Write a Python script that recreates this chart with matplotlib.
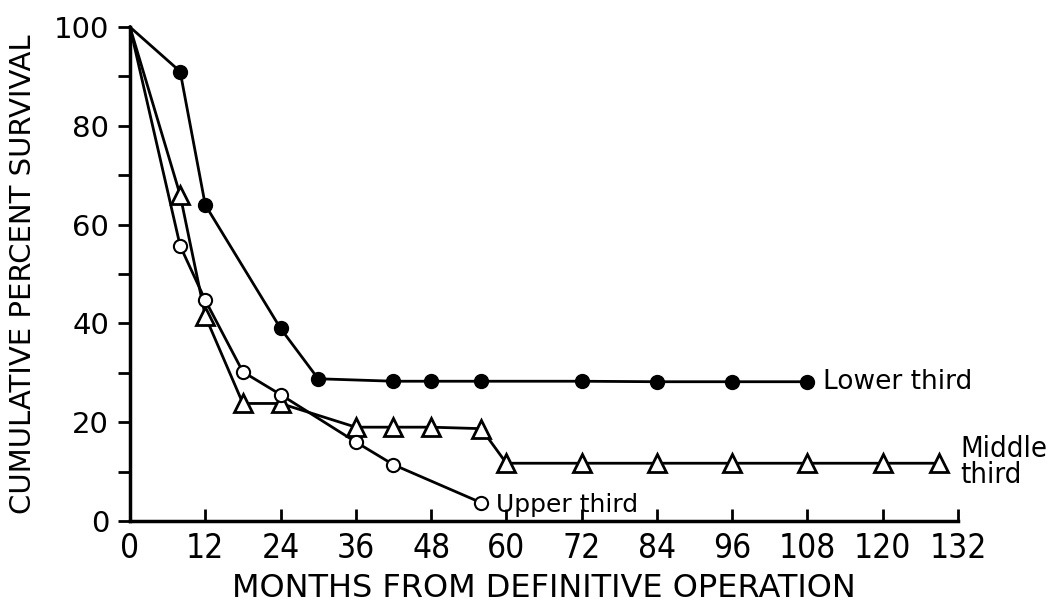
import matplotlib.pyplot as plt
from matplotlib.ticker import MultipleLocator

# survival data (months, percent)
lower_months = [0, 8, 12, 24, 30, 42, 48, 56, 72, 84, 96, 108]
lower_surv = [100, 91, 64, 39, 28.8, 28.3, 28.3, 28.3, 28.3, 28.2, 28.2, 28.2]

middle_months = [0, 8, 12, 18, 24, 36, 42, 48, 56, 60, 72, 84, 96, 108, 120, 129]
middle_surv = [100, 66, 41.5, 23.8, 23.8, 19, 19, 19, 18.7, 11.7, 11.7, 11.7, 11.7, 11.7, 11.7, 11.7]

upper_months = [0, 8, 12, 18, 24, 36, 42, 56]
upper_surv = [100, 55.7, 44.7, 30.2, 25.6, 16, 11.4, 3.7]

xticks = list(range(0, 133, 12))
yticks = [0, 20, 40, 60, 80, 100]

fig = plt.figure(figsize=(10.49, 6.15), dpi=100)
ax = fig.add_axes([0.1239, 0.1528, 0.7894, 0.8032])

lw = 2.0
# no marker on the common starting point (0, 100)
ax.plot(lower_months, lower_surv, color='black', lw=lw, marker='o', ms=10,
        mfc='black', mec='black', markevery=slice(1, None), clip_on=False,
        zorder=3)
ax.plot(middle_months, middle_surv, color='black', lw=lw, marker='^', ms=13,
        mfc='white', mec='black', mew=2, markevery=slice(1, None),
        clip_on=False, zorder=3)
ax.plot(upper_months, upper_surv, color='black', lw=lw, marker='o', ms=9.5,
        mfc='white', mec='black', mew=1.5, markevery=slice(1, None),
        clip_on=False, zorder=4)

ax.text(110.5, 28.2, 'Lower third', fontsize=19, va='center', ha='left')
ax.text(132.3, 11.9, 'Middle\nthird', fontsize=21, va='center', ha='left',
        linespacing=0.9, fontstretch='condensed')
ax.text(58.3, 3.3, 'Upper third', fontsize=18, va='center', ha='left')

ax.set_xlim(0, 132)
ax.set_ylim(0, 100)
ax.set_xticks(xticks)
ax.set_yticks(yticks)
ax.yaxis.set_minor_locator(MultipleLocator(10))

for s in ['top', 'right']:
    ax.spines[s].set_visible(False)
for s in ['left', 'bottom']:
    ax.spines[s].set_linewidth(2.5)

ax.tick_params(axis='x', direction='in', length=9, width=2, labelsize=24,
               pad=8)
ax.tick_params(axis='y', which='both', direction='out', length=9, width=2,
               labelsize=21, pad=6)
for lab in ax.get_xticklabels():
    lab.set_fontstretch('condensed')

ax.set_xlabel('MONTHS FROM DEFINITIVE OPERATION', fontsize=23, labelpad=6)
ax.set_ylabel('CUMULATIVE PERCENT SURVIVAL', fontsize=21, labelpad=12)

fig.savefig('out.png', dpi=100)
